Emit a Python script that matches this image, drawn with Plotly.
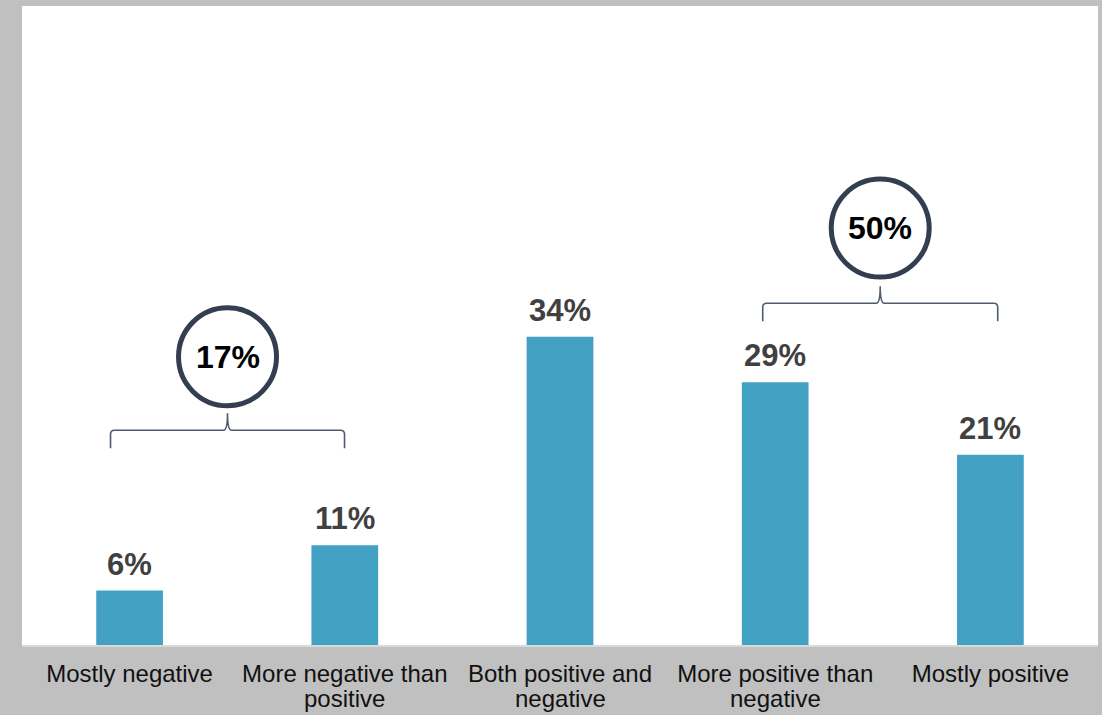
import plotly.graph_objects as go

# Survey responses: share of respondents in each sentiment category
categories = [
    "Mostly negative",
    "More negative than<br>positive",
    "Both positive and<br>negative",
    "More positive than<br>negative",
    "Mostly positive",
]
values = [6, 11, 34, 29, 21]

# Grouped totals shown in the circles above the braces
group_labels = ["17%", "50%"]
group_members = [[0, 1], [3, 4]]

BAR_COLOR = "#43a1c3"
RING_COLOR = "#333f50"
BRACE_COLOR = "#4f5b6e"
FONT = "Liberation Sans, Arial, sans-serif"
TICK_FONT = dict(family=FONT, size=24, color="#111111")

x_idx = list(range(len(categories)))
first_lines = [c.split("<br>")[0] for c in categories]
second_lines = [c.split("<br>")[1] if "<br>" in c else "" for c in categories]

fig = go.Figure()
fig.add_trace(go.Bar(
    x=x_idx,
    y=values,
    width=0.31,
    marker=dict(color=BAR_COLOR, line=dict(width=0)),
    hoverinfo="skip",
))

# value labels above each bar
for i, v in zip(x_idx, values):
    fig.add_annotation(
        x=i, y=v, text=f"<b>{v}%</b>", showarrow=False,
        yanchor="bottom", yshift=7,
        font=dict(family=FONT, size=31, color="#404040"),
    )

# wrapped part of the category labels, set with a tighter line spacing
for i, txt in zip(x_idx, second_lines):
    if txt:
        fig.add_annotation(
            x=i, xref="x", y=0, yref="paper", text=txt, showarrow=False,
            yanchor="middle", yshift=-53, font=TICK_FONT,
        )

# brace + ring placement for each group (anchor x in category units, y in data units)
brace_anchor_x = [0.455, 3.488]
brace_y = [23.7, 37.7]
ring_y = [31.8, 46.0]
brace_half = [117, 117.5]   # half width in px
brace_drop = 18             # end legs length in px
brace_tip = 17              # centre tip height in px
r = 4                       # corner radius in px

for k, label in enumerate(group_labels):
    hw = brace_half[k]
    path = (
        f"M {-hw},{-brace_drop} L {-hw},{-r} Q {-hw},0 {-hw + r},0 "
        f"L {-r},0 Q 0,0 0,{brace_tip} "
        f"Q 0,0 {r},0 L {hw - r},0 Q {hw},0 {hw},{-r} L {hw},{-brace_drop}"
    )
    fig.add_shape(
        type="path", path=path,
        xref="x", yref="y", xsizemode="pixel", ysizemode="pixel",
        xanchor=brace_anchor_x[k], yanchor=brace_y[k],
        line=dict(color=BRACE_COLOR, width=1.6),
    )
    fig.add_shape(
        type="circle",
        xref="x", yref="y", xsizemode="pixel", ysizemode="pixel",
        xanchor=brace_anchor_x[k], yanchor=ring_y[k],
        x0=-49, x1=49, y0=-49, y1=49,
        line=dict(color=RING_COLOR, width=5),
        fillcolor="white",
    )
    fig.add_annotation(
        x=brace_anchor_x[k], y=ring_y[k], text=f"<b>{label}</b>",
        showarrow=False, yanchor="middle",
        font=dict(family=FONT, size=32, color="#000000"),
    )

fig.update_layout(
    width=1102, height=715,
    margin=dict(l=22, r=4, t=6, b=70),
    paper_bgcolor="#c0c0c0",
    plot_bgcolor="#ffffff",
    showlegend=False,
    bargap=0.69,
    font=dict(family=FONT),
)
fig.update_xaxes(
    range=[-0.5, 4.5],
    tickmode="array", tickvals=x_idx, ticktext=first_lines,
    tickfont=TICK_FONT,
    ticklabelstandoff=6,
    automargin=False,
    showgrid=False, zeroline=False,
    showline=True, linecolor="#d9d9d9", linewidth=2,
    ticks="", fixedrange=True,
)
fig.update_yaxes(
    range=[0, 70.5], visible=False, showgrid=False, zeroline=False,
    automargin=False, fixedrange=True,
)

fig.write_html("out.html", config={"displayModeBar": False})
